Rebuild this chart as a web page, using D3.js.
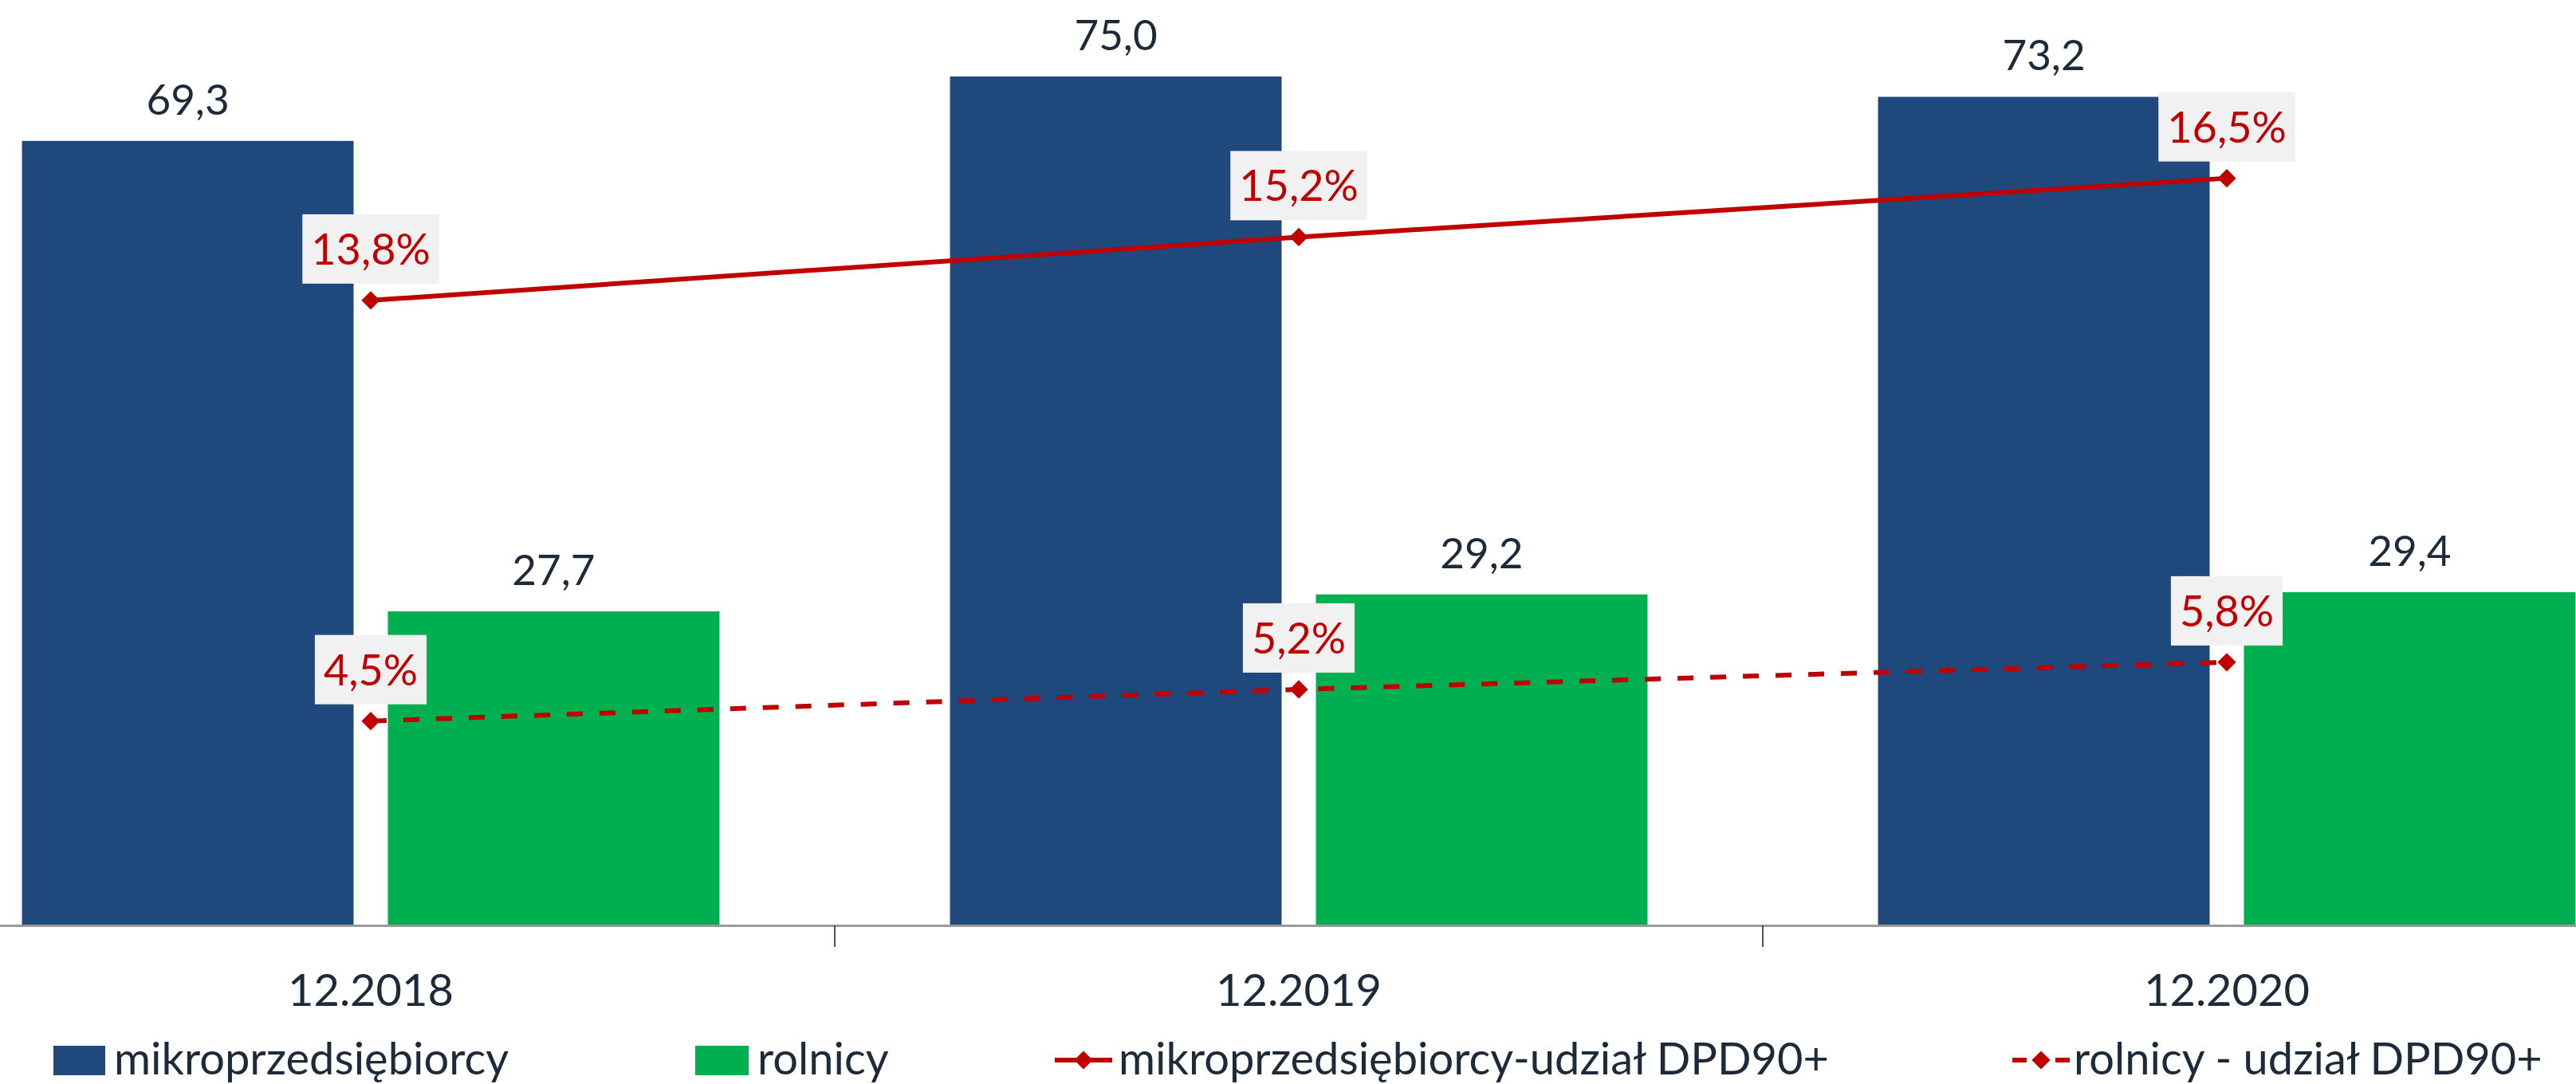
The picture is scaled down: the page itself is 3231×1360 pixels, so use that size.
<!DOCTYPE html>
<html>
<head>
<meta charset="utf-8">
<script src="https://cdn.jsdelivr.net/npm/d3@7"></script>
<style>
  body { margin: 0; background: #ffffff; }
  text { font-family: Lato, "Open Sans", sans-serif; }
</style>
</head>
<body>
<div id="chart"></div>
<script>
// Data
var categories = ["12.2018", "12.2019", "12.2020"];
var barSeries = ["mikroprzedsiębiorcy", "rolnicy"];
var mikroValues = [69.3, 75.0, 73.2];
var rolnicyValues = [27.7, 29.2, 29.4];
var lineSeries = ["mikroprzedsiębiorcy-udział DPD90+", "rolnicy - udział DPD90+"];
var mikroShare = [13.8, 15.2, 16.5];
var rolnicyShare = [4.5, 5.2, 5.8];

var width = 3231;
var height = 1360;
var baseY = 1160;
var topY = 25;

var blue = "#1f497d";
var green = "#00b050";
var red = "#c00000";
var textColor = "#1c2a3a";

var svg = d3.select("#chart")
    .append("svg")
    .attr("width", width)
    .attr("height", height);

// Category scale runs past both edges, like the cropped original
var x = d3.scaleBand()
    .domain(categories)
    .range([-117, 3375]);

var xSub = d3.scaleBand()
    .domain(barSeries)
    .range([0, x.bandwidth()])
    .paddingInner(0.0937)
    .paddingOuter(0.315);

var yBar = d3.scaleLinear().domain([0, 80]).range([baseY, topY]);
var yLine = d3.scaleLinear().domain([0, 20]).range([baseY, topY]);

function fmt(v) {
    return d3.format(".1f")(v).replace(".", ",");
}

// Bars
var barData = [];
categories.forEach(function(c, i) {
    barData.push({cat: c, series: barSeries[0], value: mikroValues[i], color: blue});
    barData.push({cat: c, series: barSeries[1], value: rolnicyValues[i], color: green});
});

svg.selectAll("rect.bar")
    .data(barData)
    .enter()
    .append("rect")
    .attr("class", "bar")
    .attr("x", function(d) { return x(d.cat) + xSub(d.series); })
    .attr("y", function(d) { return yBar(d.value); })
    .attr("width", xSub.bandwidth())
    .attr("height", function(d) { return baseY - yBar(d.value); })
    .attr("fill", function(d) { return d.color; });

svg.selectAll("text.barLabel")
    .data(barData)
    .enter()
    .append("text")
    .attr("class", "barLabel")
    .attr("x", function(d) { return x(d.cat) + xSub(d.series) + xSub.bandwidth() / 2; })
    .attr("y", function(d) { return yBar(d.value) - 33; })
    .attr("text-anchor", "middle")
    .attr("font-size", 53)
    .attr("fill", textColor)
    .text(function(d) { return fmt(d.value); });

// Axis line and category ticks
svg.append("line")
    .attr("x1", 0)
    .attr("x2", width)
    .attr("y1", baseY + 1.5)
    .attr("y2", baseY + 1.5)
    .attr("stroke", "#9a9a9a")
    .attr("stroke-width", 3);

svg.selectAll("line.tick")
    .data(categories)
    .enter()
    .append("line")
    .attr("class", "tick")
    .attr("x1", function(d) { return x(d); })
    .attr("x2", function(d) { return x(d); })
    .attr("y1", baseY + 1)
    .attr("y2", baseY + 28)
    .attr("stroke", "#555")
    .attr("stroke-width", 2);

svg.selectAll("text.catLabel")
    .data(categories)
    .enter()
    .append("text")
    .attr("class", "catLabel")
    .attr("x", function(d) { return x(d) + x.bandwidth() / 2; })
    .attr("y", 1262)
    .attr("text-anchor", "middle")
    .attr("font-size", 56)
    .attr("fill", textColor)
    .text(function(d) { return d; });

// Lines for DPD90+ share
var lineData = [
    {name: lineSeries[0], values: mikroShare, dash: null},
    {name: lineSeries[1], values: rolnicyShare, dash: "20,21"}
];

var line = d3.line()
    .x(function(d, i) { return x(categories[i]) + x.bandwidth() / 2; })
    .y(function(d) { return yLine(d); });

var diamond = d3.symbol().type(d3.symbolSquare).size(270);

lineData.forEach(function(s) {
    svg.append("path")
        .datum(s.values)
        .attr("d", line)
        .attr("fill", "none")
        .attr("stroke", red)
        .attr("stroke-width", 6)
        .attr("stroke-dasharray", s.dash);

    svg.selectAll(null)
        .data(s.values)
        .enter()
        .append("path")
        .attr("d", diamond)
        .attr("fill", red)
        .attr("transform", function(d, i) {
            return "translate(" + (x(categories[i]) + x.bandwidth() / 2) + "," + yLine(d) + ") rotate(45)";
        });

    // Labels with light box
    s.values.forEach(function(v, i) {
        var cx = x(categories[i]) + x.bandwidth() / 2;
        var boxBottom = yLine(v) - 21;
        var g = svg.append("g");
        var box = g.append("rect")
            .attr("fill", "#f1f1f1");
        var t = g.append("text")
            .attr("x", cx)
            .attr("y", boxBottom - 87 + 63)
            .attr("text-anchor", "middle")
            .attr("font-size", 54)
            .attr("fill", red)
            .text(fmt(v) + "%");
        var len = t.node().getComputedTextLength();
        box.attr("x", cx - len / 2 - 11)
            .attr("y", boxBottom - 87)
            .attr("width", len + 22)
            .attr("height", 87);
    });
});

// Legend
var legendY = 1330;
var legend = svg.append("g").attr("class", "legend");

legend.append("rect")
    .attr("x", 67).attr("y", legendY - 18)
    .attr("width", 65).attr("height", 37)
    .attr("fill", blue);
legend.append("text")
    .attr("x", 143).attr("y", 1348)
    .attr("font-size", 56).attr("fill", textColor)
    .text(barSeries[0]);

legend.append("rect")
    .attr("x", 872).attr("y", legendY - 18)
    .attr("width", 67).attr("height", 37)
    .attr("fill", green);
legend.append("text")
    .attr("x", 950).attr("y", 1348)
    .attr("font-size", 56).attr("fill", textColor)
    .text(barSeries[1]);

var lineLegend = [
    {x: 1323, textX: 1403, name: lineSeries[0], dash: null},
    {x: 2524, textX: 2601, name: lineSeries[1], dash: "18,9"}
];

lineLegend.forEach(function(l) {
    legend.append("line")
        .attr("x1", l.x).attr("x2", l.x + 72)
        .attr("y1", legendY).attr("y2", legendY)
        .attr("stroke", red)
        .attr("stroke-width", 6)
        .attr("stroke-dasharray", l.dash);
    legend.append("path")
        .attr("d", diamond)
        .attr("fill", red)
        .attr("transform", "translate(" + (l.x + 36) + "," + legendY + ") rotate(45)");
    legend.append("text")
        .attr("x", l.textX).attr("y", 1348)
        .attr("font-size", 56).attr("fill", textColor)
        .text(l.name);
});
</script>
</body>
</html>
